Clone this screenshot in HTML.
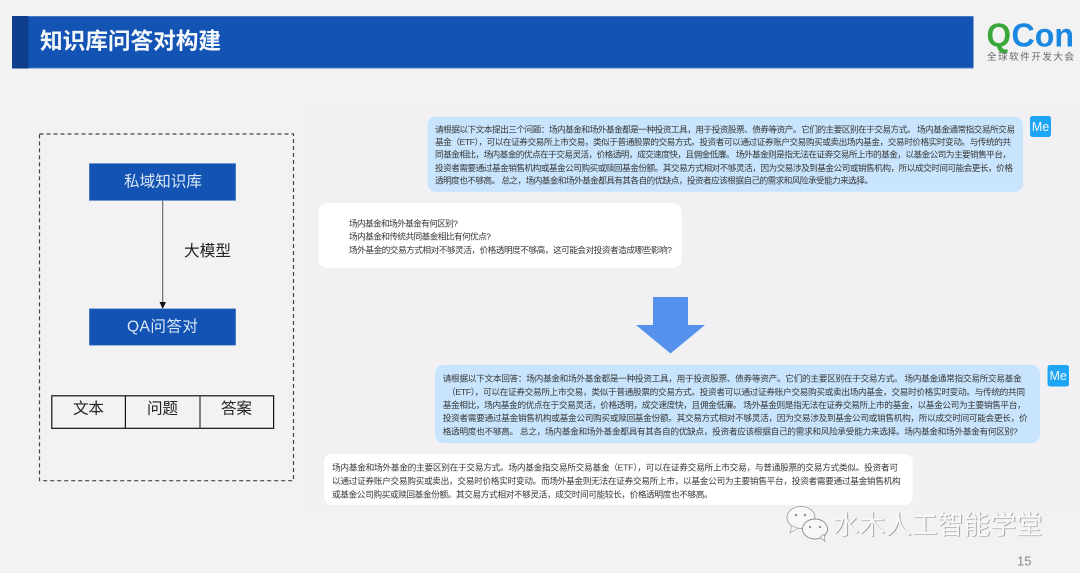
<!DOCTYPE html>
<html lang="zh-CN">
<head>
<meta charset="utf-8">
<style>
html,body{margin:0;padding:0;background:#f2f2f2;}
body{width:1080px;height:573px;overflow:hidden;position:relative;font-family:"Liberation Sans","Noto Sans CJK SC",sans-serif;}
svg{position:absolute;left:0;top:0;}
text{font-family:"Liberation Sans","Noto Sans CJK SC",sans-serif;}
.t{font-size:8.7px;fill:#383838;dominant-baseline:central;transform:translateY(0.8px);}
.b{font-size:15.6px;dominant-baseline:central;transform:translateY(0.8px);}
.wm{position:absolute;left:833px;top:508px;font-size:26.2px;line-height:34px;white-space:nowrap;color:#f8f8f8;text-shadow:0.7px 0.7px 0.6px #8a8a8a;}
</style>
</head>
<body>
<svg width="1080" height="573" viewBox="0 0 1080 573" xmlns="http://www.w3.org/2000/svg">
<rect x="0" y="0" width="1080" height="573" fill="#f2f2f2"/>
<rect x="305" y="100" width="775" height="410" fill="#f1f1f3"/>

<!-- header -->
<rect x="12" y="16" width="961.5" height="52.5" fill="#1353b3"/>
<rect x="12" y="16" width="961.5" height="1" fill="#4a7cc6"/>
<rect x="12" y="67.5" width="961.5" height="1" fill="#4a7cc6"/>
<rect x="12" y="16" width="16.5" height="52.5" fill="#0f3f8c"/>
<text x="40" y="41" font-size="22.7" font-weight="bold" fill="#f4f7fb" dominant-baseline="central" textLength="181">知识库问答对构建</text>

<!-- logo -->
<text x="986.5" y="46.5" font-size="33" font-weight="bold" fill="#38a83a" textLength="24.5" lengthAdjust="spacingAndGlyphs">Q</text>
<text x="1011.5" y="46.5" font-size="33" font-weight="bold" fill="#1a87e0" textLength="62.5" lengthAdjust="spacingAndGlyphs">Con</text>
<text x="987" y="57.5" font-size="9.6" fill="#666" dominant-baseline="central" textLength="87">全球软件开发大会</text>

<!-- left dashed frame -->
<rect x="39.5" y="134" width="254" height="346.7" fill="#f2f2f2" stroke="#444" stroke-width="1.2" stroke-dasharray="4 3"/>
<rect x="89.3" y="163.5" width="146.4" height="37" fill="#1353b3" stroke="#6a94d2" stroke-width="0.6"/>
<text class="b" x="124" y="181" fill="#dce8f6" textLength="78">私域知识库</text>
<line x1="162.7" y1="200.5" x2="162.7" y2="303" stroke="#555" stroke-width="1"/>
<polygon points="159.5,302 166,302 162.7,309" fill="#111"/>
<text class="b" x="184" y="250.5" fill="#222" textLength="47">大模型</text>
<rect x="89.3" y="308.7" width="146.4" height="36.6" fill="#1353b3" stroke="#6a94d2" stroke-width="0.6"/>
<text class="b" x="127" y="326" fill="#dce8f6" textLength="71">QA问答对</text>

<!-- table -->
<rect x="51.8" y="395.8" width="221.8" height="32.5" fill="none" stroke="#111" stroke-width="1.2"/>
<line x1="125.4" y1="395.8" x2="125.4" y2="428.3" stroke="#111" stroke-width="1.2"/>
<line x1="200" y1="395.8" x2="200" y2="428.3" stroke="#333" stroke-width="1.2"/>
<text class="b" x="73" y="408" fill="#222" textLength="31">文本</text>
<text class="b" x="147" y="408" fill="#222" textLength="31">问题</text>
<text class="b" x="221" y="408" fill="#222" textLength="31">答案</text>

<!-- bubble 1 -->
<rect x="427.5" y="116.7" width="595.5" height="75" rx="8" fill="#c8e5fd"/>
<rect x="1030" y="116" width="21" height="21" rx="2.5" fill="#1fa5f5"/>
<text x="1040.5" y="127" font-size="12.5" fill="#f2f9ff" text-anchor="middle" dominant-baseline="central">Me</text>
<text class="t" x="435" y="128.7" textLength="580">请根据以下文本提出三个问题：场内基金和场外基金都是一种投资工具，用于投资股票、债券等资产。它们的主要区别在于交易方式。 场内基金通常指交易所交易</text>
<text class="t" x="435" y="141" textLength="576">基金（ETF），可以在证券交易所上市交易，类似于普通股票的交易方式。投资者可以通过证券账户交易购买或卖出场内基金，交易时价格实时变动。与传统的共</text>
<text class="t" x="435" y="153.5" textLength="576">同基金相比，场内基金的优点在于交易灵活，价格透明，成交速度快，且佣金低廉。 场外基金则是指无法在证券交易所上市的基金，以基金公司为主要销售平台，</text>
<text class="t" x="435" y="167" textLength="578">投资者需要通过基金销售机构或基金公司购买或赎回基金份额。其交易方式相对不够灵活，因为交易涉及到基金公司或销售机构，所以成交时间可能会更长，价格</text>
<text class="t" x="435" y="179.7" textLength="438">透明度也不够高。 总之，场内基金和场外基金都具有其各自的优缺点，投资者应该根据自己的需求和风险承受能力来选择。</text>

<!-- bubble 2 -->
<rect x="318.5" y="203" width="363.2" height="65" rx="9" fill="#ffffff"/>
<text class="t" x="349" y="222.7" textLength="109">场内基金和场外基金有何区别?</text>
<text class="t" x="349" y="235.5" textLength="142">场内基金和传统共同基金相比有何优点?</text>
<text class="t" x="349" y="249" textLength="323">场外基金的交易方式相对不够灵活，价格透明度不够高，这可能会对投资者造成哪些影响?</text>

<!-- big arrow -->
<polygon points="653,297 688,297 688,325 705,325 670.5,353.5 636,325 653,325" fill="#5591ec"/>

<!-- bubble 3 -->
<rect x="435" y="365" width="605" height="78" rx="8" fill="#c8e5fd"/>
<rect x="1047.5" y="365" width="21.5" height="21.5" rx="2.5" fill="#1fa5f5"/>
<text x="1058.2" y="376" font-size="12.5" fill="#f2f9ff" text-anchor="middle" dominant-baseline="central">Me</text>
<text class="t" x="442.7" y="377.7" textLength="579">请根据以下文本回答：场内基金和场外基金都是一种投资工具，用于投资股票、债券等资产。它们的主要区别在于交易方式。 场内基金通常指交易所交易基金</text>
<text class="t" x="447" y="391" textLength="578">（ETF），可以在证券交易所上市交易，类似于普通股票的交易方式。投资者可以通过证券账户交易购买或卖出场内基金，交易时价格实时变动。与传统的共同</text>
<text class="t" x="442.7" y="404.3" textLength="583">基金相比，场内基金的优点在于交易灵活，价格透明，成交速度快，且佣金低廉。 场外基金则是指无法在证券交易所上市的基金，以基金公司为主要销售平台，</text>
<text class="t" x="442.7" y="417" textLength="585">投资者需要通过基金销售机构或基金公司购买或赎回基金份额。其交易方式相对不够灵活，因为交易涉及到基金公司或销售机构，所以成交时间可能会更长，价</text>
<text class="t" x="442.7" y="430.7" textLength="575">格透明度也不够高。 总之，场内基金和场外基金都具有其各自的优缺点，投资者应该根据自己的需求和风险承受能力来选择。场内基金和场外基金有何区别?</text>

<!-- bubble 4 -->
<rect x="324" y="454" width="588.7" height="51" rx="8" fill="#ffffff"/>
<text class="t" x="332" y="466.7" textLength="566">场内基金和场外基金的主要区别在于交易方式。场内基金指交易所交易基金（ETF），可以在证券交易所上市交易，与普通股票的交易方式类似。投资者可</text>
<text class="t" x="332" y="480" textLength="568.7">以通过证券账户交易购买或卖出，交易时价格实时变动。而场外基金则无法在证券交易所上市，以基金公司为主要销售平台，投资者需要通过基金销售机构</text>
<text class="t" x="332" y="493.7" textLength="380.7">或基金公司购买或赎回基金份额。其交易方式相对不够灵活，成交时间可能较长，价格透明度也不够高。</text>

<!-- watermark wechat icon -->
<ellipse cx="801" cy="517.5" rx="14" ry="11" fill="#f7f7f7" stroke="#999" stroke-width="0.8"/>
<polygon points="792,526 790,533 798,528" fill="#f7f7f7" stroke="#999" stroke-width="0.6"/>
<ellipse cx="815" cy="529" rx="12.5" ry="10" fill="#f7f7f7" stroke="#888" stroke-width="0.9"/>
<polygon points="820,537 825,541.5 824,534" fill="#f7f7f7" stroke="#888" stroke-width="0.6"/>
<circle cx="796" cy="515" r="1.3" fill="#999"/>
<circle cx="805" cy="515" r="1.3" fill="#999"/>
<circle cx="810" cy="527" r="1.1" fill="#888"/>
<circle cx="820" cy="527" r="1.1" fill="#888"/>

<!-- page number -->
<text x="1017" y="561" font-size="13" fill="#8a8a8a" dominant-baseline="central">15</text>
</svg>
<div class="wm">水木人工智能学堂</div>
</body>
</html>
